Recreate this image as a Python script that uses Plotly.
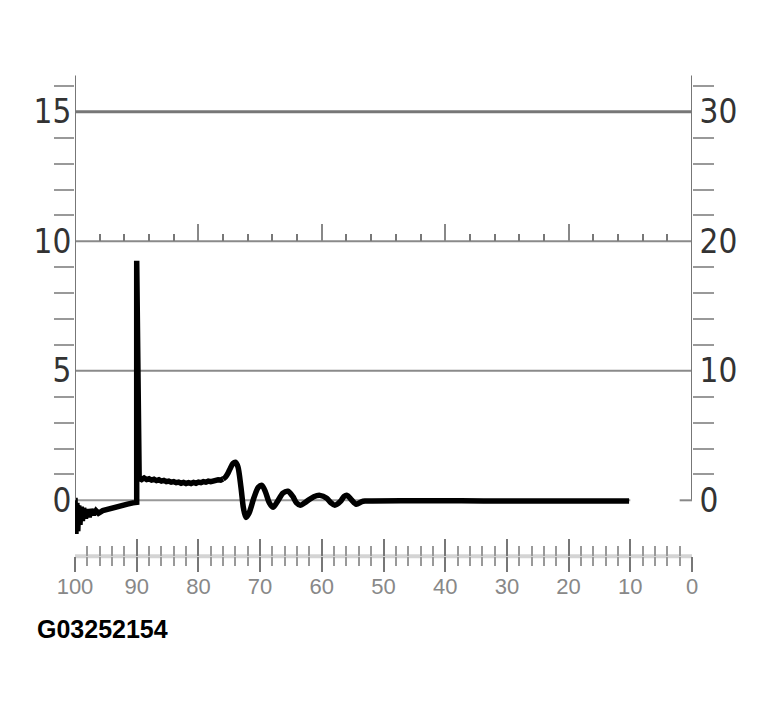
import plotly.graph_objects as go

# signal (x runs from 100 down to 0)
# part 1: noisy start, spike at 90 and the plateau before the ringing
pre_x = [100.0, 99.85, 99.7, 99.55, 99.4, 99.2, 99.0, 98.8, 98.6, 98.3, 98.0, 97.7,
         97.4, 97.0, 96.6, 96.2, 95.5, 94.5, 93.5, 92.5, 91.5, 90.6, 90.0, 90.0,
         89.6, 89.2, 88.8, 88.4, 88.0, 87.6, 87.2, 86.8, 86.4, 86.0, 85.6, 85.2,
         84.8, 84.4, 84.0, 83.6, 83.2, 82.8, 82.4, 82.0, 81.6, 81.2, 80.8, 80.4,
         80.0, 79.6, 79.2, 78.8, 78.4, 78.0, 77.6, 77.2, 76.8, 76.4, 76.0]
pre_y = [0.1, -1.3, -0.1, -1.2, -0.2, -0.95, -0.25, -0.8, -0.3, -0.7, -0.35, -0.65,
         -0.35, -0.55, -0.4, -0.5, -0.4, -0.35, -0.28, -0.22, -0.15, -0.1, -0.08, 9.25,
         0.85, 0.8, 0.86, 0.8, 0.83, 0.78, 0.81, 0.76, 0.79, 0.74, 0.77, 0.72,
         0.74, 0.7, 0.72, 0.68, 0.7, 0.66, 0.69, 0.65, 0.68, 0.65, 0.69, 0.66,
         0.7, 0.68, 0.72, 0.7, 0.74, 0.72, 0.76, 0.75, 0.79, 0.78, 0.82]
# part 2: bump at 74 and the damped ringing, then flat to 10
ring_x = [76.0, 75.6, 75.2, 74.8, 74.4, 74.0, 73.6, 73.1, 72.7, 72.3, 71.8, 71.0,
          70.3, 69.7, 69.1, 68.5, 67.9, 67.2, 66.3, 65.5, 64.7, 64.1, 63.5, 62.5,
          61.3, 60.3, 59.2, 58.5, 57.9, 57.0, 56.4, 55.9, 55.2, 54.4, 53.6, 53.0,
          30.0, 10.2]
ring_y = [0.82, 0.9, 1.05, 1.25, 1.42, 1.47, 1.3, 0.5, -0.3, -0.66, -0.5, 0.1,
          0.5, 0.58, 0.3, -0.1, -0.27, -0.05, 0.28, 0.35, 0.15, -0.1, -0.19, -0.05,
          0.14, 0.19, 0.08, -0.1, -0.19, -0.05, 0.15, 0.19, 0.02, -0.15, -0.06, -0.03,
          -0.03, -0.03]

left_major = [0, 5, 10, 15]
left_minor = [v for v in range(1, 17) if v % 5]
right_major = [0, 10, 20, 30]
right_minor = [v for v in range(2, 33, 2) if v % 10]
bottom_major = list(range(0, 101, 10))
bottom_minor = [v for v in range(2, 100, 2) if v % 10]
mid_major = [20, 40, 60, 80]
mid_minor = [v for v in range(4, 100, 4) if v % 20]
grid_levels = [5, 10, 15]
figure_code = "G03252154"

Y_LO, Y_HI = -3.0, 17.0
AXIS_TOP = 16.4
BOTTOM_AXIS = -2.16
FONT = "Liberation Sans, Arial, sans-serif"
NARROW = "Liberation Sans Narrow, DejaVu Sans Condensed, sans-serif"

fig = go.Figure()
fig.add_trace(go.Scatter(x=pre_x, y=pre_y, mode="lines",
                         line=dict(color="black", width=5.5),
                         hoverinfo="skip", showlegend=False))
fig.add_trace(go.Scatter(x=ring_x, y=ring_y, mode="lines",
                         line=dict(color="black", width=5.5, shape="spline",
                                   smoothing=0.8),
                         hoverinfo="skip", showlegend=False))
# empty traces so the overlay axes get drawn
for xa, ya in [("x2", "y2"), ("x3", "y"), ("x4", "y")]:
    fig.add_trace(go.Scatter(x=[], y=[], xaxis=xa, yaxis=ya, showlegend=False))

shapes = []
for lv in grid_levels:
    shapes.append(dict(type="line", xref="x", yref="y", x0=100, x1=0, y0=lv, y1=lv,
                       line=dict(color="#777" if lv == 15 else "#8a8a8a",
                                 width=3 if lv == 15 else 2), layer="below"))
shapes.append(dict(type="line", xref="x", yref="y", x0=100, x1=10, y0=0, y1=0,
                   line=dict(color="#999", width=2), layer="below"))
# light band of the bottom scale
shapes.append(dict(type="line", xref="x", yref="y", x0=100, x1=0,
                   y0=BOTTOM_AXIS, y1=BOTTOM_AXIS,
                   line=dict(color="#d4d4d4", width=4), layer="below"))
for xv in [100, 0]:
    shapes.append(dict(type="line", xref="x", yref="y", x0=xv, x1=xv, y0=0, y1=AXIS_TOP,
                       line=dict(color="#777", width=2)))
shapes.append(dict(type="line", xref="x", yref="y", x0=2, x1=0, y0=0, y1=0,
                   line=dict(color="#888", width=2)))

span = Y_HI - Y_LO
mid_pos = (10 - Y_LO) / span
bot_pos = (BOTTOM_AXIS - Y_LO) / span

fig.update_layout(
    width=764, height=707,
    margin=dict(l=67, r=80, t=52, b=137),
    paper_bgcolor="white", plot_bgcolor="white",
    showlegend=False,
    xaxis=dict(range=[100, 0], showgrid=False, zeroline=False, showline=False,
               anchor="free", position=bot_pos,
               ticks="outside", tickvals=bottom_major,
               ticktext=[str(v) for v in bottom_major],
               ticklen=15, tickwidth=2, tickcolor="#777",
               minor=dict(tickvals=bottom_minor, ticks="outside", ticklen=9,
                          tickwidth=2, tickcolor="#999"),
               tickfont=dict(family=FONT, size=22, color="#888"),
               ticklabelstandoff=-5),
    xaxis4=dict(range=[100, 0], overlaying="x", anchor="free", position=bot_pos,
                side="bottom", showgrid=False, zeroline=False, showline=False,
                ticks="inside", tickvals=bottom_major, ticklen=17, tickwidth=2,
                tickcolor="#777", showticklabels=False,
                minor=dict(tickvals=bottom_minor, ticks="inside", ticklen=10,
                           tickwidth=2, tickcolor="#999")),
    xaxis3=dict(range=[100, 0], overlaying="x", anchor="free", position=mid_pos,
                side="top", showgrid=False, zeroline=False, showline=False,
                ticks="outside", tickvals=mid_major, ticklen=17, tickwidth=2,
                tickcolor="#888", showticklabels=False,
                minor=dict(tickvals=mid_minor, ticks="outside", ticklen=7,
                           tickwidth=2, tickcolor="#777")),
    xaxis2=dict(range=[100, 0], overlaying="x", visible=False),
    yaxis=dict(range=[Y_LO, Y_HI], showgrid=False, zeroline=False, showline=False,
               ticks="outside", tickvals=left_major,
               ticktext=[str(v) for v in left_major], ticklen=0,
               minor=dict(tickvals=left_minor, ticks="outside", ticklen=20,
                          tickwidth=2, tickcolor="#999"),
               tickfont=dict(family=NARROW, size=33, color="#333"),
               ticklabelstandoff=-4),
    yaxis2=dict(range=[2 * Y_LO, 2 * Y_HI], overlaying="y", side="right", anchor="x",
                showgrid=False, zeroline=False, showline=False,
                ticks="outside", tickvals=right_major,
                ticktext=[str(v) for v in right_major], ticklen=0,
                minor=dict(tickvals=right_minor, ticks="outside", ticklen=21,
                           tickwidth=2, tickcolor="#999"),
                tickfont=dict(family=NARROW, size=33, color="#333"),
                ticklabelstandoff=0),
    shapes=shapes,
    annotations=[dict(text="<b>" + figure_code + "</b>", xref="paper", yref="paper",
                      x=(35 - 75) / 617, y=(578 - 629) / 518,
                      xanchor="left", yanchor="middle", showarrow=False,
                      font=dict(family=FONT, size=25, color="black"))],
)

fig.write_html("out.html")
